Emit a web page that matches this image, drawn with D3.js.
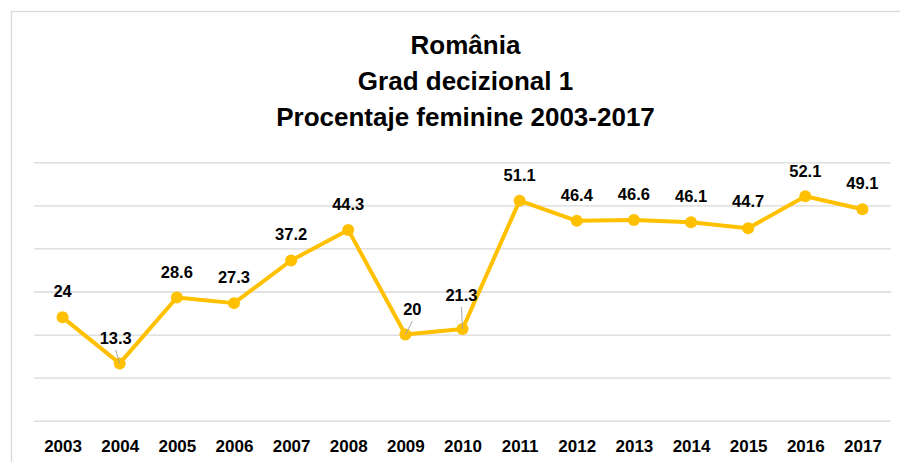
<!DOCTYPE html>
<html>
<head>
<meta charset="utf-8">
<script src="https://cdn.jsdelivr.net/npm/d3@7"></script>
<style>
  html, body { margin: 0; padding: 0; background: #fff; }
  svg { display: block; }
</style>
</head>
<body>
<svg id="chart" width="900" height="462"></svg>
<script>
// ---- data ----
const years = ["2003","2004","2005","2006","2007","2008","2009","2010","2011","2012","2013","2014","2015","2016","2017"];
const values = [24, 13.3, 28.6, 27.3, 37.2, 44.3, 20, 21.3, 51.1, 46.4, 46.6, 46.1, 44.7, 52.1, 49.1];
const labels = ["24","13.3","28.6","27.3","37.2","44.3","20","21.3","51.1","46.4","46.6","46.1","44.7","52.1","49.1"];
const gridTicks = [0, 10, 20, 30, 40, 50, 60];
const titleLines = ["România", "Grad decizional 1", "Procentaje feminine 2003-2017"];

// label placement tweaks (dx, baseline offset above point) and leader-line flags
const labelDx = [0, -4, 0, 0, 0, 0, 7, -1, 0, 0, 0, 0, 0, 0, 0];
const labelDy = [20, 19.5, 19.5, 20, 20, 20, 19.5, 28, 20, 20, 20, 20, 21, 19.5, 20];
const leader = [false, true, false, false, false, false, true, true, false, false, false, false, false, false, false];

const svg = d3.select("#chart");
const color = "#FFC000";
const font = "'Liberation Sans', Arial, sans-serif";

// outer border (right/bottom off-canvas)
svg.append("rect")
  .attr("x", 11.5).attr("y", 11.5)
  .attr("width", 920).attr("height", 480)
  .attr("fill", "#fff")
  .attr("stroke", "#d9d9d9").attr("stroke-width", 1.3);

const x = d3.scalePoint().domain(years).range([34, 891]).padding(0.5);
const y = d3.scaleLinear().domain([0, 60]).range([420.7, 162.3]);

// title
svg.append("g").selectAll("text").data(titleLines).join("text")
  .attr("x", 465.5)
  .attr("y", (d, i) => 54 + i * 36)
  .attr("text-anchor", "middle")
  .attr("font-family", font)
  .attr("font-weight", "bold")
  .attr("font-size", 26)
  .attr("fill", "#000")
  .text(d => d);

// gridlines via axis
const yAxis = d3.axisLeft(y).tickValues(gridTicks).tickSize(-(891 - 34)).tickFormat("");
const gy = svg.append("g").attr("transform", "translate(34,0)").call(yAxis);
gy.select(".domain").remove();
gy.selectAll(".tick line").attr("stroke", "#d9d9d9").attr("stroke-width", 1.3);

// x axis labels
const xAxis = d3.axisBottom(x).tickSize(0).tickPadding(0);
const gx = svg.append("g").attr("transform", "translate(0,452)").call(xAxis);
gx.select(".domain").remove();
gx.selectAll(".tick text")
  .attr("dy", 0)
  .attr("y", 0)
  .attr("font-family", font)
  .attr("font-weight", "bold")
  .attr("font-size", 17)
  .attr("fill", "#000");

const pts = years.map((yr, i) => ({ yr, v: values[i], label: labels[i], i }));

// line
const line = d3.line().x(d => x(d.yr)).y(d => y(d.v));
svg.append("path")
  .datum(pts)
  .attr("d", line)
  .attr("fill", "none")
  .attr("stroke", color)
  .attr("stroke-width", 4)
  .attr("stroke-linejoin", "round");

// markers
svg.append("g").selectAll("circle").data(pts).join("circle")
  .attr("cx", d => x(d.yr))
  .attr("cy", d => y(d.v))
  .attr("r", 6)
  .attr("fill", color);

// leader lines
svg.append("g").selectAll("line").data(pts.filter(d => leader[d.i])).join("line")
  .attr("x1", d => x(d.yr) + labelDx[d.i])
  .attr("y1", d => y(d.v) - labelDy[d.i] + 6)
  .attr("x2", d => x(d.yr))
  .attr("y2", d => y(d.v))
  .attr("stroke", "#a6a6a6")
  .attr("stroke-width", 1);

// data labels
svg.append("g").selectAll("text").data(pts).join("text")
  .attr("x", d => x(d.yr) + labelDx[d.i])
  .attr("y", d => y(d.v) - labelDy[d.i])
  .attr("text-anchor", "middle")
  .attr("font-family", font)
  .attr("font-weight", "bold")
  .attr("font-size", 16.5)
  .attr("fill", "#000")
  .text(d => d.label);
</script>
</body>
</html>
